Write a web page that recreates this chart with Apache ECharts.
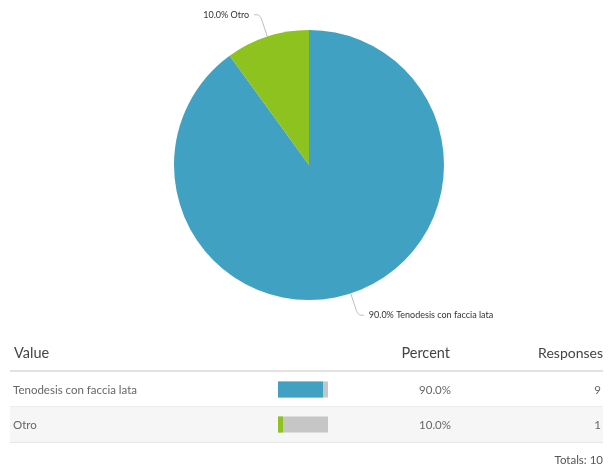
<!DOCTYPE html>
<html>
<head>
<meta charset="utf-8">
<script src="https://cdn.jsdelivr.net/npm/echarts@6/dist/echarts.min.js"></script>
<style>
  html, body { margin: 0; padding: 0; background: #fff; }
  #chart { width: 608px; height: 467px; }
</style>
</head>
<body>
<div id="chart"></div>
<script>
// Survey answers and their response counts
const categories = ['Tenodesis con faccia lata', 'Otro'];
const responses = [9, 1];
const sliceColors = ['#40a1c2', '#8ec21f'];
const headers = ['Value', 'Percent', 'Responses'];

const total = responses.reduce((a, b) => a + b, 0);
const percents = responses.map(v => v / total * 100);

const FONT = 'Lato, "Open Sans", sans-serif';
const chart = echarts.init(document.getElementById('chart'));

// Table rows geometry
const tableLeft = 10, tableRight = 603;
const rowTop = [372, 407];
const rowH = 35;

const graphics = [];
// Header texts
graphics.push({ type: 'text', style: { text: headers[0], x: 14, y: 353, textVerticalAlign: 'middle', font: '14.5px ' + FONT, fill: '#444' } });
graphics.push({ type: 'text', style: { text: headers[1], x: 450, y: 353, textAlign: 'right', textVerticalAlign: 'middle', font: '14.5px ' + FONT, fill: '#444' } });
graphics.push({ type: 'text', style: { text: headers[2], x: 603, y: 353, textAlign: 'right', textVerticalAlign: 'middle', font: '14px ' + FONT, fill: '#444' } });
// Header rule
graphics.push({ type: 'rect', shape: { x: tableLeft, y: 370, width: tableRight - tableLeft, height: 2 }, style: { fill: '#e2e2e2' } });
// Striped second row
graphics.push({ type: 'rect', z: -1, shape: { x: tableLeft, y: rowTop[1], width: tableRight - tableLeft, height: rowH }, style: { fill: '#f6f6f6' } });
graphics.push({ type: 'rect', shape: { x: tableLeft, y: rowTop[1] - 1, width: tableRight - tableLeft, height: 1 }, style: { fill: '#ededed' } });
graphics.push({ type: 'rect', shape: { x: tableLeft, y: rowTop[1] + rowH, width: tableRight - tableLeft, height: 1 }, style: { fill: '#e6e6e6' } });

categories.forEach((name, i) => {
  const cy = rowTop[i] + rowH / 2 + 1;
  graphics.push({ type: 'text', style: { text: name, x: 13, y: cy, textVerticalAlign: 'middle', font: '11.5px ' + FONT, fill: '#666' } });
  graphics.push({ type: 'text', style: { text: percents[i].toFixed(1) + '%', x: 451, y: cy, textAlign: 'right', textVerticalAlign: 'middle', font: '11.5px ' + FONT, fill: '#666' } });
  graphics.push({ type: 'text', style: { text: String(responses[i]), x: 601, y: cy, textAlign: 'right', textVerticalAlign: 'middle', font: '11.5px ' + FONT, fill: '#666' } });
});
graphics.push({ type: 'text', style: { text: 'Totals: ' + total, x: 603, y: 460, textAlign: 'right', textVerticalAlign: 'middle', font: '11.5px ' + FONT, fill: '#555' } });

chart.setOption({
  backgroundColor: '#fff',
  animation: false,
  textStyle: { fontFamily: FONT },
  grid: { left: 278, top: rowTop[0], width: 50, height: rowH * 2 },
  xAxis: { type: 'value', min: 0, max: 100, show: false },
  yAxis: { type: 'category', data: categories, inverse: true, show: false },
  series: [
    {
      type: 'pie',
      center: [309, 165],
      radius: [0, 135],
      startAngle: 90,
      clockwise: true,
      avoidLabelOverlap: false,
      label: {
        formatter: p => p.percent.toFixed(1) + '% ' + p.name,
        fontSize: 9,
        color: '#333',
        fontFamily: FONT
      },
      labelLine: {
        length: 23,
        length2: 6,
        smooth: 0.4,
        lineStyle: { color: '#bbb', width: 1 }
      },
      data: categories.map((name, i) => ({
        name, value: responses[i], itemStyle: { color: sliceColors[i] }
      }))
    },
    {
      type: 'bar',
      barWidth: 16,
      showBackground: true,
      backgroundStyle: { color: '#c6c6c6' },
      data: percents.map((v, i) => ({ value: v, itemStyle: { color: sliceColors[i] } }))
    }
  ],
  graphic: graphics
});
</script>
</body>
</html>
